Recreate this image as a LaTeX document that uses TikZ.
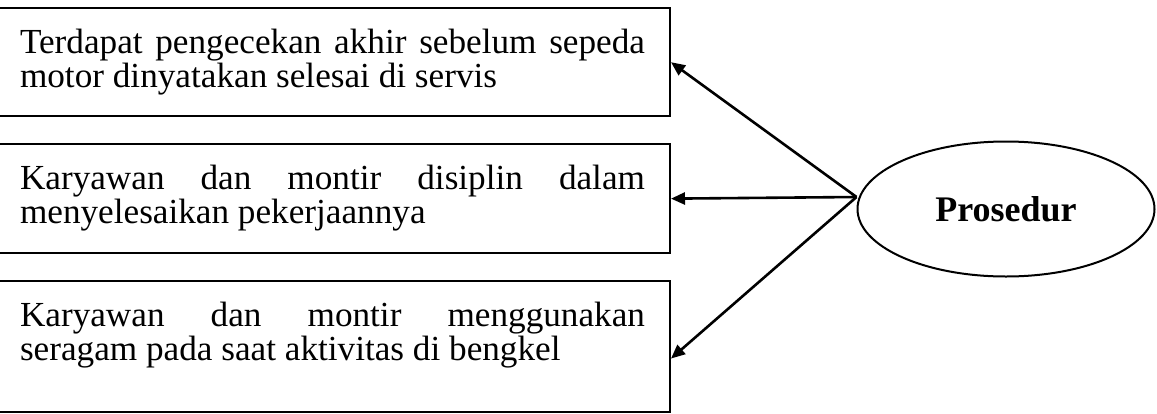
\documentclass[tikz,border=0pt]{standalone}
\usepackage{fontspec}
\setmainfont{Liberation Serif}
\usepackage{tikz}
\usetikzlibrary{arrows.meta, positioning, shapes.geometric}
\hyphenpenalty=10000

\begin{document}
\begin{tikzpicture}[
  x=0.5pt, y=-0.5pt,
  node distance=13pt,
  box/.style={rectangle, draw, line width=1pt, align=justify, text width=312.5pt,
    inner xsep=12.5pt, inner ysep=10.5pt, text depth=21pt,
    font=\fontsize{17.6}{15.5}\selectfont},
  oval/.style={ellipse, draw, line width=1pt, minimum width=148.5pt, minimum height=67.5pt,
    inner sep=0pt, font=\fontsize{18}{15.5}\selectfont\bfseries},
  arr/.style={-{Triangle[length=7pt, width=6pt]}, line width=1.3pt}
]
\useasboundingbox (0,0) rectangle (1157,413);
\node[box, anchor=north] (b1) at (332.5,7) {Terdapat pengecekan akhir sebelum sepeda\linebreak motor dinyatakan selesai di servis};
\node[box, below=of b1] (b2) {Karyawan dan montir disiplin dalam\linebreak menyelesaikan pekerjaannya};
\node[box, below=of b2, text depth=32.5pt] (b3) {Karyawan dan montir menggunakan\linebreak seragam pada saat aktivitas di bengkel};
\node[oval] (pros) at (1006,209) {Prosedur};

\draw[arr] ([yshift=6pt]pros.west) -- (b1.east);
\draw[arr] ([yshift=6pt]pros.west) -- (b2.east);
\draw[arr] ([yshift=6pt]pros.west) -- ([yshift=-6pt]b3.east);
\end{tikzpicture}
\end{document}
